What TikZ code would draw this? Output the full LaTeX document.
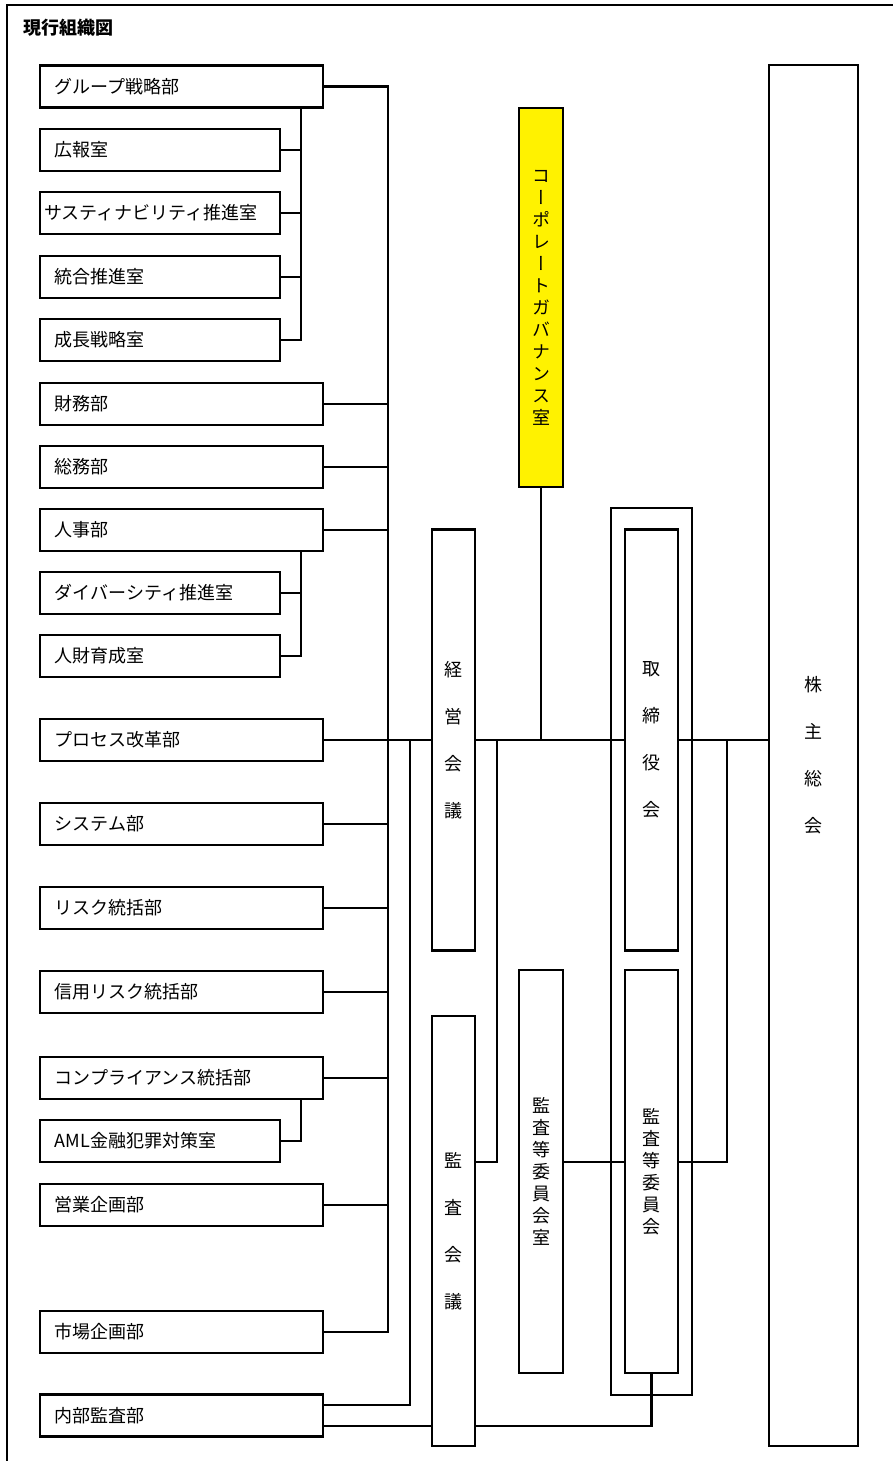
\documentclass[tikz,border=0pt]{standalone}
\usepackage{fontspec}
\setmainfont{Noto Sans CJK JP}
\newfontfamily\tatefont[RawFeature=+vert]{Noto Sans CJK JP}
\usetikzlibrary{positioning}

\tikzset{
  dept/.style={draw, fill=white, minimum height=31.5pt, text width=190pt,
    inner xsep=11.25pt, inner ysep=0pt, align=left, font=\fontsize{13.5}{15}\selectfont},
  subdept/.style={dept, text width=157.5pt},
  tate/.style={draw, fill=white, inner sep=0pt, align=center,
    font=\tatefont\fontsize{13.5}{35.25}\selectfont},
  tatesmall/.style={tate, font=\tatefont\fontsize{13.5}{16.5}\selectfont},
}

\begin{document}
\begin{tikzpicture}[x=0.75pt, y=-0.75pt, line width=1.6pt]
  \useasboundingbox (0,0) rectangle (893,1461);
  \draw (7,1461) -- (7,5) -- (893,5);
  \node[anchor=west, inner sep=0pt, font=\bfseries\fontsize{13.5}{15}\selectfont] (title) at (22,28) {現行組織図};

  % left column
  \node[dept] (grp) at (181.5,86.5) {グループ戦略部};
  \node[subdept] (kouhou) at (160,150) {広報室};
  \node[subdept, inner xsep=3pt, text width=174pt] (susta) at (160,213) {サスティナビリティ推進室};
  \node[subdept] (tougou) at (160,277) {統合推進室};
  \node[subdept] (seicho) at (160,340) {成長戦略室};
  \node[dept] (zaimu) at (181.5,404) {財務部};
  \node[dept] (soumu) at (181.5,467) {総務部};
  \node[dept] (jinji) at (181.5,530) {人事部};
  \node[subdept] (diversity) at (160,593) {ダイバーシティ推進室};
  \node[subdept] (jinzai) at (160,656) {人財育成室};
  \node[dept] (process) at (181.5,740) {プロセス改革部};
  \node[dept] (system) at (181.5,824) {システム部};
  \node[dept] (risk) at (181.5,908) {リスク統括部};
  \node[dept] (shinyo) at (181.5,992) {信用リスク統括部};
  \node[dept] (compl) at (181.5,1078) {コンプライアンス統括部};
  \node[subdept] (aml) at (160,1141) {AML金融犯罪対策室};
  \node[dept] (eigyo) at (181.5,1205) {営業企画部};
  \node[dept] (ichiba) at (181.5,1332) {市場企画部};
  \node[dept] (naibu) at (181.5,1415.5) {内部監査部};

  % center and right
  \node[draw, minimum width=60.75pt, minimum height=665.25pt] (waku) at (651.5,951.5) {};
  \node[tatesmall, fill=yellow, minimum width=33pt, minimum height=284.25pt] (cg) at (541,297.5)
    {コ\\ー\\ポ\\レ\\ー\\ト\\ガ\\バ\\ナ\\ン\\ス\\室};
  \node[tate, minimum width=32.25pt, minimum height=315.75pt] (keiei) at (453.5,740) {経\\営\\会\\議};
  \node[tate, minimum width=32.25pt, minimum height=322.5pt] (kansa) at (453.5,1231) {監\\査\\会\\議};
  \node[tate, minimum width=39.75pt, minimum height=315.75pt] (torishimari) at (651.5,740) {取\\締\\役\\会};
  \node[tatesmall, minimum width=33pt, minimum height=302.25pt] (kansashitsu) at (541,1171.5)
    {監\\査\\等\\委\\員\\会\\室};
  \node[tatesmall, minimum width=39.75pt, minimum height=302.25pt] (kansaiin) at (651.5,1171.5)
    {監\\査\\等\\委\\員\\会};
  \node[tate, minimum width=66.75pt, minimum height=1035.75pt] (kabunushi) at (813.5,755.5) {株\\主\\総\\会};

  \coordinate (bus) at (388,0);
  \coordinate (subbus) at (301,0);
  \coordinate (mid) at (0,1162);
  \coordinate (low) at (0,1426);

  % connectors
  \draw (grp.east) -| (bus |- ichiba.east) -- (ichiba.east);
  \foreach \n in {zaimu,soumu,jinji,system,risk,shinyo,compl,eigyo}
    \draw (\n.east) -- (\n.east -| bus);
  \draw (grp.south -| subbus) |- (seicho.east);
  \foreach \n in {kouhou,susta,tougou}
    \draw (\n.east) -- (\n.east -| subbus);
  \draw (jinji.south -| subbus) |- (jinzai.east);
  \draw (diversity.east) -- (diversity.east -| subbus);
  \draw (compl.south -| subbus) |- (aml.east);

  \draw (process.east) -- (keiei.west);
  \draw ([yshift=7.875pt]naibu.east) -| (410,740);
  \draw (naibu.east |- low) -- (kansa.west |- low);
  \draw (kansa.east |- low) -| (kansaiin.south);
  \draw (kansa.east |- mid) -| (497,740);
  \draw (cg.south) -- (cg.south |- keiei.east);
  \draw (keiei.east) -- (torishimari.west);
  \draw (torishimari.east) -- (kabunushi.west |- torishimari.east);
  \draw (kansaiin.east |- mid) -| (727,740);
  \draw (kansashitsu.east |- mid) -- (kansaiin.west |- mid);
\end{tikzpicture}
\end{document}
